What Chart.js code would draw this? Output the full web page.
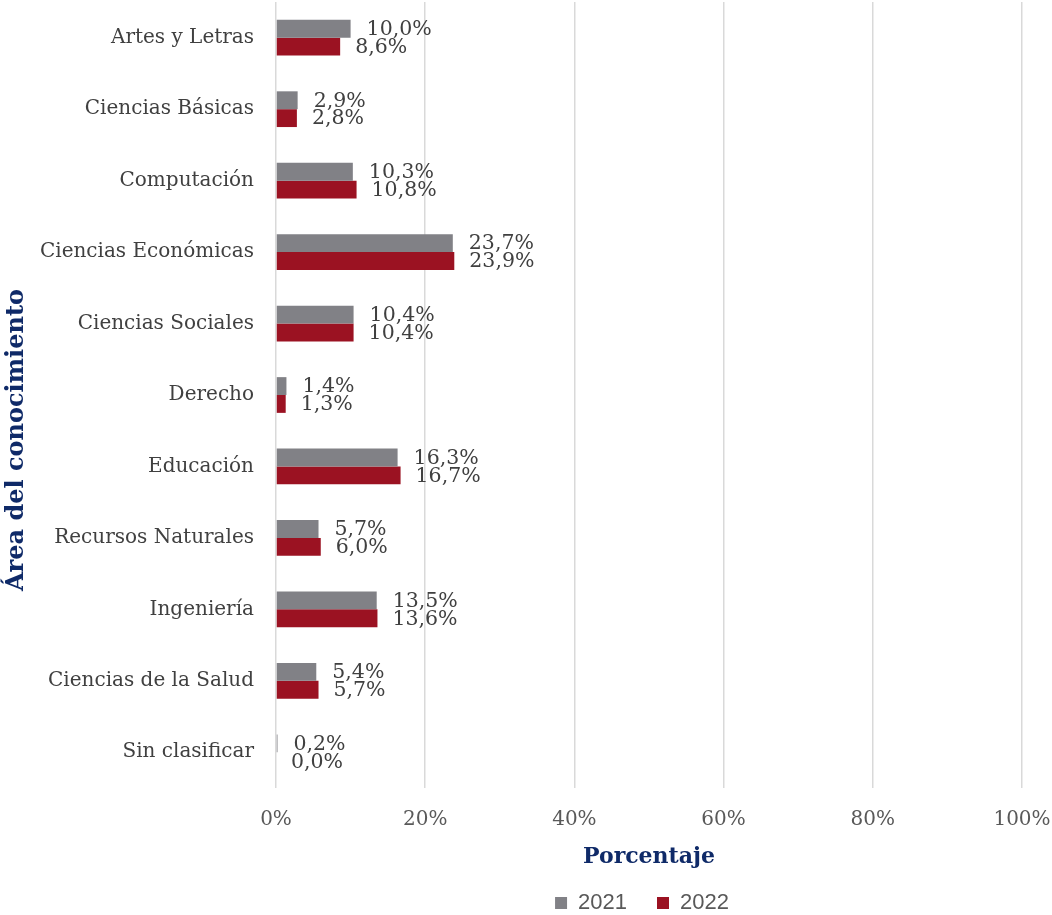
<!DOCTYPE html>
<html>
<head>
<meta charset="utf-8">
<script src="https://cdn.jsdelivr.net/npm/chart.js@4"></script>
<style>
html,body{margin:0;padding:0;background:#fff}
#wrap{width:1052px;height:915px;position:relative}
</style>
</head>
<body>
<div id="wrap"><canvas id="c" width="1052" height="915"></canvas></div>
<script>
// ─── DATA ────────────────────────────────────────────────────
const areas=['Artes y Letras','Ciencias Básicas','Computación','Ciencias Económicas','Ciencias Sociales','Derecho','Educación','Recursos Naturales','Ingeniería','Ciencias de la Salud','Sin clasificar'];
const v2021=[10.0,2.9,10.3,23.7,10.4,1.4,16.3,5.7,13.5,5.4,0.2];
const v2022=[8.6,2.8,10.8,23.9,10.4,1.3,16.7,6.0,13.6,5.7,0.0];
const xTicks=[0,20,40,60,80,100];
const yTitle='Área del conocimiento';

const FONT='"DejaVu Serif", serif';
const NAVY='#0f2a68';
const pct=v=>v.toFixed(1).replace('.',',')+'%';

// value labels to the right of each bar
const barLabels={id:'barLabels',
  afterDatasetsDraw(chart){
    const ctx=chart.ctx;ctx.save();
    ctx.font='20.5px '+FONT;ctx.fillStyle='#404040';ctx.textAlign='left';ctx.textBaseline='middle';
    chart.data.datasets.forEach((ds,di)=>{
      const meta=chart.getDatasetMeta(di);
      meta.data.forEach((el,i)=>{ctx.fillText(pct(ds.data[i]),el.x+(di===0?16:15),el.y+1)});
    });
    ctx.restore()}
};
// legend sits under the plot area, not the full canvas; y title drawn a bit low like the source
const layoutFix={id:'layoutFix',
  afterLayout(chart){const l=chart.legend;if(l){l.left+=131;l.right+=131}},
  afterDraw(chart){
    const ctx=chart.ctx;ctx.save();
    ctx.translate(17,440);ctx.rotate(-Math.PI/2);
    ctx.font='bold 24px '+FONT;ctx.fillStyle=NAVY;ctx.textAlign='center';ctx.textBaseline='middle';
    ctx.fillText(yTitle,0,0);ctx.restore()}
};

Chart.defaults.font.family=FONT;
new Chart(document.getElementById('c'),{
  type:'bar',
  data:{labels:areas,datasets:[
    {label:'2021',data:v2021,backgroundColor:'#818186',categoryPercentage:0.5,barPercentage:1},
    {label:'2022',data:v2022,backgroundColor:'#9b1222',categoryPercentage:0.5,barPercentage:1}
  ]},
  options:{indexAxis:'y',responsive:false,animation:false,
    layout:{padding:{top:2,right:30,left:0,bottom:-9}},
    plugins:{
      legend:{position:'bottom',labels:{color:'#595959',font:{size:22,family:'"Liberation Sans", sans-serif'},boxWidth:12,boxHeight:12,padding:30}},
      tooltip:{enabled:false}
    },
    scales:{
      x:{min:0,max:100,
        afterBuildTicks(s){s.ticks=xTicks.map(v=>({value:v}))},
        afterFit(s){s.height=74;s.paddingLeft=0;s.paddingRight=0},
        grid:{color:'#d9d9d9',lineWidth:1.5,drawTicks:false},border:{display:false},
        ticks:{color:'#595959',font:{size:20},padding:20,callback:v=>v+'%'},
        title:{display:true,text:'Porcentaje',color:NAVY,font:{size:22,weight:'bold'},padding:{top:0,bottom:-8}}
      },
      y:{grid:{display:false,drawTicks:false},border:{display:false},
        afterFit(s){s.width=276;s.paddingTop=0;s.paddingBottom=0},
        ticks:{color:'#404040',font:{size:20},padding:22},
        title:{display:false}
      }
    }
  },
  plugins:[barLabels,layoutFix]
});
</script>
</body>
</html>
